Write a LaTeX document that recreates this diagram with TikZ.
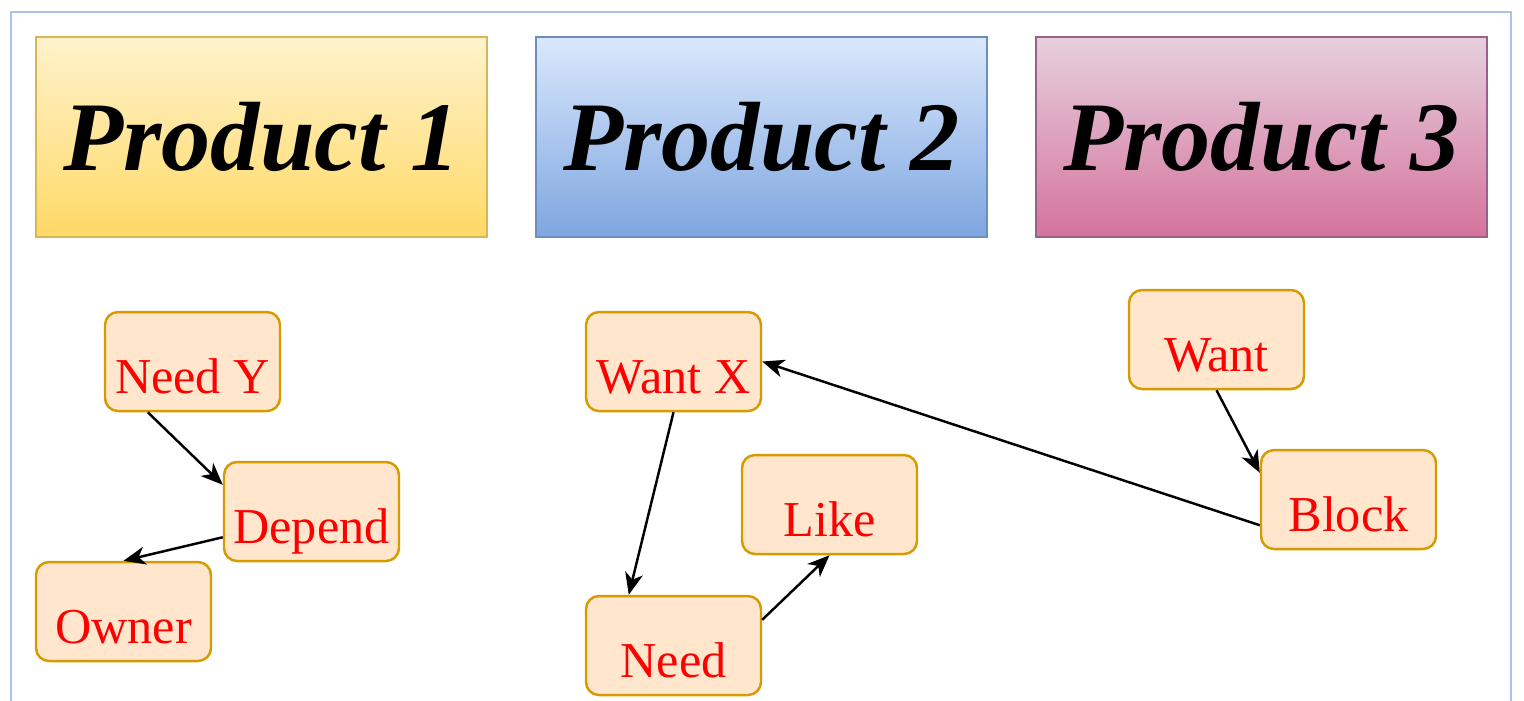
\documentclass[tikz,border=0pt]{standalone}
\usepackage{fontspec}
\setmainfont{Liberation Serif}
\usepackage{xcolor}
\usepackage{tikz}
\usetikzlibrary{arrows.meta}

\definecolor{frameblue}{HTML}{A9C4EB}
\definecolor{itemfill}{HTML}{FFE6CC}
\definecolor{itemdraw}{HTML}{D79B00}
\definecolor{yelTop}{HTML}{FFF2CC}
\definecolor{yelBot}{HTML}{FFD966}
\definecolor{yelDraw}{HTML}{D6B656}
\definecolor{bluTop}{HTML}{DAE8FC}
\definecolor{bluBot}{HTML}{7EA6E0}
\definecolor{bluDraw}{HTML}{6C8EBF}
\definecolor{pnkTop}{HTML}{E6D0DE}
\definecolor{pnkBot}{HTML}{D5739D}
\definecolor{pnkDraw}{HTML}{996185}

\begin{document}
\begin{tikzpicture}[
  header/.style={rectangle, line width=0.6pt, inner sep=0pt,
                 minimum width=4.51cm, minimum height=2cm,
                 font=\fontsize{28}{32}\selectfont\bfseries\itshape},
  item/.style={rectangle, draw=itemdraw, fill=itemfill, line width=0.7pt,
               rounded corners=0.13cm, inner sep=0pt,
               minimum width=1.75cm, text height=0.81cm, text depth=0.18cm,
               text=red, font=\fontsize{14.3}{16}\selectfont},
  arr/.style={-{Stealth[length=0.22cm, width=0.18cm, inset=0.065cm]}, line width=0.7pt, black},
]
  \useasboundingbox (0,0) rectangle (15.24,-7);
  \clip (0,0) rectangle (15.24,-7);
  \draw[frameblue, line width=0.8pt] (0.11,-0.12) rectangle (15.11,-7.4);

  % product headers
  \node[header, draw=yelDraw, top color=yelTop, bottom color=yelBot] (prod1) at (2.615,-1.37) {Product 1};
  \node[header, draw=bluDraw, top color=bluTop, bottom color=bluBot] (prod2) at (7.615,-1.37) {Product 2};
  \node[header, draw=pnkDraw, top color=pnkTop, bottom color=pnkBot] (prod3) at (12.615,-1.37) {Product 3};

  % product 1
  \node[item] (needy)  at (1.925,-3.615) {Need Y};
  \node[item] (depend) at (3.115,-5.115) {Depend};
  \node[item] (owner)  at (1.235,-6.115) {Owner};

  % product 2
  \node[item] (wantx) at (6.735,-3.615) {Want X};
  \node[item] (need)  at (6.735,-6.455) {Need};
  \node[item] (like)  at (8.295,-5.045) {Like};

  % product 3
  \node[item] (want)  at (12.165,-3.395) {Want};
  \node[item] (block) at (13.485,-4.995) {Block};

  \draw[arr] ([xshift=0.44cm]needy.south west) -- ([yshift=-0.24cm]depend.north west);
  \draw[arr] ([yshift=0.25cm]depend.south west) -- (owner.north);
  \draw[arr] (wantx.south) -- ([xshift=0.44cm]need.north west);
  \draw[arr] ([yshift=-0.25cm]need.north east) -- (like.south);
  \draw[arr] (want.south) -- ([yshift=-0.24cm]block.north west);
  \draw[arr] ([yshift=0.25cm]block.south west) -- (wantx.east);
\end{tikzpicture}
\end{document}
